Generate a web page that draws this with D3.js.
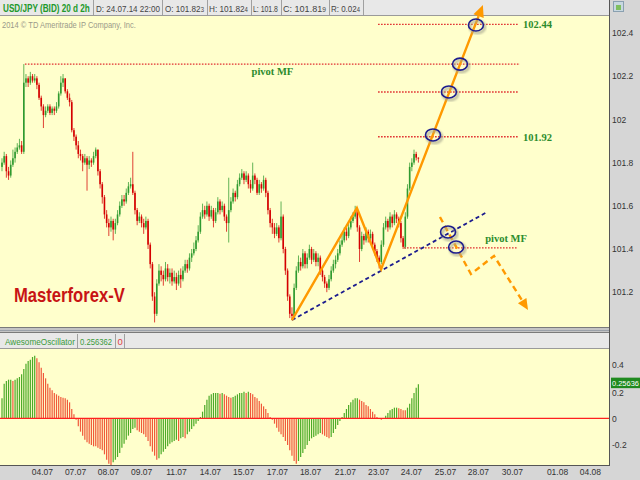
<!DOCTYPE html>
<html><head><meta charset="utf-8">
<script src="https://cdn.jsdelivr.net/npm/d3@7"></script>
<style>html,body{margin:0;padding:0;background:#d6d6d6;overflow:hidden}</style>
</head><body><svg id="c" width="640" height="480"></svg>
<script>
// ---------------- DATA ----------------
const firstOpen = 101.78;
const closes = [
101.80,101.83,101.76,101.74,101.79,101.82,101.85,101.87,101.88,101.85,
102.17,102.19,102.17,102.20,102.18,102.19,102.16,102.10,102.06,102.02,
102.04,102.06,102.03,102.05,102.04,102.06,102.12,102.17,102.19,102.13,
102.10,102.08,101.95,101.92,101.88,101.84,101.83,101.80,101.82,101.79,
101.81,101.80,101.83,101.86,101.76,101.70,101.64,101.56,101.52,101.50,
101.53,101.49,101.52,101.56,101.60,101.63,101.62,101.66,101.69,101.70,
101.66,101.58,101.53,101.55,101.52,101.50,101.53,101.42,101.33,101.18,
101.10,101.24,101.30,101.28,101.26,101.31,101.27,101.29,101.25,101.27,
101.24,101.28,101.26,101.30,101.33,101.31,101.36,101.38,101.40,101.44,
101.48,101.55,101.58,101.56,101.60,101.55,101.58,101.53,101.57,101.62,
101.58,101.60,101.55,101.52,101.58,101.62,101.66,101.64,101.70,101.73,
101.75,101.72,101.74,101.70,101.68,101.74,101.72,101.66,101.70,101.68,
101.72,101.66,101.58,101.52,101.50,101.47,101.50,101.45,101.55,101.40,
101.30,101.18,101.10,101.09,101.22,101.30,101.34,101.32,101.38,101.33,
101.36,101.40,101.35,101.38,101.34,101.36,101.30,101.27,101.24,101.22,
101.26,101.30,101.33,101.35,101.38,101.42,101.44,101.48,101.46,101.50,
101.53,101.55,101.58,101.50,101.40,101.46,101.44,101.48,101.45,101.47,
101.42,101.39,101.36,101.34,101.42,101.50,101.53,101.50,101.55,101.52,
101.56,101.54,101.52,101.45,101.41,101.55,101.68,101.78,101.80,101.84,
101.823,101.819];
const highs = [
101.82,101.85,101.84,101.78,101.81,101.86,101.87,101.89,101.91,101.90,
102.256,102.21,102.20,102.22,102.21,102.21,102.20,102.17,102.11,102.07,
102.06,102.07,102.07,102.06,102.06,102.08,102.13,102.20,102.21,102.19,
102.14,102.12,102.09,101.96,101.93,101.90,101.86,101.84,101.84,101.83,
101.83,101.82,101.85,101.87,101.86,101.77,101.71,101.65,101.58,101.54,
101.55,101.54,101.54,101.58,101.62,101.65,101.65,101.68,101.71,101.73,
101.85,101.67,101.59,101.57,101.56,101.54,101.55,101.54,101.43,101.34,
101.20,101.26,101.33,101.32,101.30,101.34,101.33,101.31,101.31,101.30,
101.29,101.30,101.31,101.32,101.35,101.35,101.38,101.40,101.43,101.46,
101.51,101.57,101.61,101.60,101.62,101.61,101.60,101.59,101.59,101.64,
101.63,101.62,101.61,101.56,101.73,101.64,101.68,101.67,101.72,101.75,
101.77,101.76,101.76,101.75,101.72,101.80,101.75,101.73,101.72,101.71,
101.74,101.73,101.67,101.59,101.54,101.52,101.52,101.51,101.62,101.56,
101.41,101.31,101.19,101.13,101.24,101.32,101.37,101.36,101.40,101.39,
101.38,101.42,101.41,101.40,101.39,101.38,101.37,101.31,101.28,101.25,
101.28,101.32,101.35,101.37,101.40,101.44,101.47,101.50,101.50,101.52,
101.55,101.57,101.60,101.59,101.51,101.48,101.47,101.50,101.49,101.49,
101.48,101.43,101.40,101.37,101.44,101.52,101.55,101.54,101.57,101.56,
101.58,101.57,101.55,101.53,101.46,101.57,101.70,101.80,101.82,101.86,
101.85,101.824];
const lows = [
101.76,101.79,101.73,101.72,101.73,101.78,101.80,101.84,101.86,101.84,
101.84,102.15,102.15,102.16,102.17,102.17,102.14,102.09,102.04,101.96,
102.01,102.03,102.02,102.02,102.02,102.03,102.05,102.11,102.15,102.12,
102.09,102.06,101.94,101.90,101.86,101.82,101.81,101.76,101.79,101.67,
101.77,101.78,101.79,101.82,101.74,101.68,101.61,101.54,101.50,101.46,
101.48,101.44,101.47,101.51,101.55,101.59,101.60,101.61,101.65,101.68,
101.65,101.56,101.51,101.52,101.50,101.47,101.49,101.40,101.31,101.16,
101.06,101.09,101.23,101.25,101.23,101.25,101.25,101.24,101.23,101.24,
101.21,101.23,101.22,101.25,101.29,101.29,101.30,101.34,101.37,101.39,
101.43,101.47,101.54,101.54,101.55,101.53,101.54,101.50,101.52,101.56,
101.56,101.57,101.53,101.48,101.43,101.57,101.61,101.62,101.63,101.69,
101.72,101.70,101.71,101.68,101.66,101.67,101.70,101.65,101.65,101.66,
101.67,101.64,101.56,101.50,101.47,101.45,101.46,101.43,101.44,101.38,
101.28,101.16,101.08,101.07,101.08,101.21,101.29,101.30,101.31,101.31,
101.31,101.35,101.33,101.34,101.32,101.32,101.28,101.25,101.22,101.20,
101.21,101.25,101.29,101.31,101.34,101.37,101.41,101.43,101.44,101.45,
101.49,101.52,101.54,101.48,101.34,101.39,101.42,101.43,101.43,101.44,
101.40,101.37,101.34,101.31,101.33,101.41,101.49,101.48,101.49,101.50,
101.51,101.52,101.50,101.43,101.40,101.40,101.54,101.67,101.76,101.79,
101.81,101.80];
const aoValues = [
0.15,0.26,0.28,0.29,0.29,0.28,0.29,0.30,0.31,0.33,
0.37,0.41,0.43,0.44,0.46,0.47,0.45,0.42,0.38,0.34,
0.30,0.26,0.23,0.21,0.19,0.18,0.17,0.16,0.155,0.15,
0.14,0.12,0.07,0.03,-0.01,-0.06,-0.10,-0.13,-0.16,-0.18,
-0.19,-0.20,-0.21,-0.21,-0.22,-0.23,-0.24,-0.27,-0.31,-0.34,
-0.35,-0.33,-0.31,-0.29,-0.26,-0.22,-0.19,-0.16,-0.13,-0.11,
-0.08,-0.07,-0.09,-0.10,-0.11,-0.12,-0.14,-0.17,-0.21,-0.25,
-0.28,-0.31,-0.30,-0.27,-0.25,-0.23,-0.21,-0.19,-0.18,-0.17,
-0.16,-0.17,-0.15,-0.14,-0.15,-0.12,-0.10,-0.08,-0.06,-0.04,
-0.02,0.01,0.05,0.10,0.14,0.17,0.18,0.19,0.19,0.19,
0.185,0.19,0.18,0.17,0.16,0.155,0.16,0.17,0.18,0.19,
0.19,0.20,0.19,0.20,0.19,0.18,0.16,0.15,0.13,0.11,
0.09,0.07,0.04,0.01,-0.01,-0.04,-0.07,-0.10,-0.12,-0.14,
-0.17,-0.20,-0.24,-0.28,-0.32,-0.34,-0.32,-0.29,-0.26,-0.23,
-0.20,-0.17,-0.15,-0.14,-0.13,-0.12,-0.11,-0.12,-0.13,-0.14,
-0.15,-0.14,-0.11,-0.08,-0.05,-0.02,0.01,0.04,0.07,0.10,
0.12,0.14,0.15,0.15,0.14,0.13,0.12,0.10,0.09,0.07,
0.05,0.03,0.01,0.00,-0.01,0.00,0.02,0.04,0.06,0.07,
0.08,0.08,0.075,0.07,0.06,0.06,0.08,0.11,0.15,0.19,
0.23,0.256362];
const dateLabels = ["04.07","07.07","08.07","09.07","11.07","14.07","15.07","17.07","18.07","21.07","23.07","24.07","25.07","28.07","30.07","01.08","04.08"];
const dateTickIndex = [18.3,33.5,48.6,63.8,79.8,95.4,110.6,126.1,141.3,157.3,172.5,187.6,203.2,218.3,233.9,254.6,269.7];
const priceTicks = [102.4,102.2,102,101.8,101.6,101.4,101.2];
const aoTicks = [0.4,0.2,0,-0.2];
const headerTitle = "USD/JPY (BID) 20 d 2h";
const headerMain = ["D: 24.07.14 22:00","O: 101.82","H: 101.82","L: 101.8","C: 101.81","R: 0.02"];
const headerSmall = ["","3","4","","9","4"];
const aoName = "AwesomeOscillator";
const aoLast = "0.256362";
const aoLastShort = "0.25636";
// annotation levels (price) and index spans
const targetLevels = [102.44, 102.127, 101.92];
const targetLabels = ["102.44", "", "101.92"];
const targetSpan = [172.5, 236.7];
const pivotTop = 102.256, pivotTopSpan = [10.5, 237.6];
const pivotLow = 101.405, pivotLowSpan = [184.4, 236.7];
const zigIndex = [133, 162.8, 173.9, 220.6];
const zigPrice = [101.071, 101.59, 101.307, 102.53];
const trendIndex = [133, 222.5];
const trendPrice = [101.071, 101.571];
const altIndex = [200.9, 215.1, 225.7, 241.3];
const altPrice = [101.548, 101.284, 101.368, 101.118];
const circleIndex = [217.4, 210.1, 205.0, 197.7, 204.6, 208.3];
const circlePrice = [102.437, 102.256, 102.127, 101.928, 101.479, 101.409];

// ---------------- LAYOUT ----------------
const svg = d3.select("#c");
const W = 640, H = 480, plotR = 609;
const pTop = 16, pBot = 327, aTop = 349, aBot = 465;
const x = d3.scaleLinear().domain([-0.917, 278.44]).range([0, plotR]);
const yP = d3.scaleLinear().domain([101.0435, 102.4787]).range([326, 16]);
const yA = d3.scaleLinear().domain([-0.35, 0.52]).range([aBot, aTop]);
const GREEN = "#2f9a2f", RED = "#d40000";
const SANS = "Liberation Sans, Arial, sans-serif";

// place a text so that its natural width is squeezed horizontally into w pixels
function fitText(sel, x0, y0, w){
  const nw = sel.node().getComputedTextLength();
  const k = nw > 0 ? Math.min(1, w/nw) : 1;
  sel.attr("x",0).attr("y",0).attr("transform",`translate(${x0},${y0}) scale(${k},1)`);
  return sel;
}

const defs = svg.append("defs");
defs.append("filter").attr("id","blur").append("feGaussianBlur").attr("stdDeviation",0.9);

// backgrounds
svg.append("rect").attr("x",0).attr("y",0).attr("width",W).attr("height",H).attr("fill","#d6d6d6");
svg.append("rect").attr("x",0).attr("y",0).attr("width",plotR).attr("height",15).attr("fill","#e8e8e8");
svg.append("line").attr("x1",0).attr("x2",plotR).attr("y1",15.5).attr("y2",15.5).attr("stroke","#9a9a9a");
svg.append("rect").attr("x",0).attr("y",pTop).attr("width",plotR).attr("height",pBot-pTop).attr("fill","#ffffcc");
svg.append("rect").attr("x",0).attr("y",aTop).attr("width",plotR).attr("height",aBot-aTop).attr("fill","#ffffcc");
svg.append("rect").attr("x",0).attr("y",pBot).attr("width",plotR).attr("height",6).attr("fill","#c4c4c4");
[pBot+0.5, pBot+3.5, pBot+5.5].forEach((yy,k)=>svg.append("line").attr("x1",0).attr("x2",plotR).attr("y1",yy).attr("y2",yy).attr("stroke",k==1?"#9aa0a8":"#7a7a7a"));
svg.append("rect").attr("x",0).attr("y",pBot+6).attr("width",plotR).attr("height",aTop-pBot-6).attr("fill","#e8e8e8");
svg.append("line").attr("x1",0).attr("x2",plotR).attr("y1",aTop-0.5).attr("y2",aTop-0.5).attr("stroke","#9a9a9a");
svg.append("line").attr("x1",0).attr("x2",plotR).attr("y1",aBot+0.5).attr("y2",aBot+0.5).attr("stroke","#555");
svg.append("line").attr("x1",plotR+0.5).attr("x2",plotR+0.5).attr("y1",0).attr("y2",aBot+1).attr("stroke","#555");

// header
const hdr = svg.append("g").attr("font-family",SANS);
fitText(hdr.append("text").attr("font-size",10.5).attr("font-weight","bold").attr("fill","#22992b").text(headerTitle), 3, 11.5, 87);
const hSpans = [[96,160],[165,204],[209,248],[253,278],[283,326],[331,360]];
const hSeps = [93,162,207,251,281,329,363];
hSeps.forEach(s=>hdr.append("line").attr("x1",s+0.5).attr("x2",s+0.5).attr("y1",0).attr("y2",15).attr("stroke","#a0a0a0"));
headerMain.forEach((t,k)=>{
  const tx = hdr.append("text").attr("font-size",9.5).attr("fill","#444");
  tx.append("tspan").text(t);
  if(headerSmall[k]) tx.append("tspan").attr("font-size",7).text(headerSmall[k]);
  fitText(tx, hSpans[k][0], 11.5, hSpans[k][1]-hSpans[k][0]);
});
// small icon top right
svg.append("rect").attr("x",613.5).attr("y",1.5).attr("width",10).attr("height",10).attr("fill","#c8d8e0").attr("stroke","#8aa0b0");
svg.append("rect").attr("x",616).attr("y",5).attr("width",5).attr("height",5).attr("fill","#7fbf5f");

fitText(svg.append("text").attr("font-family",SANS).attr("font-size",8.5).attr("fill","#9a9a8a")
  .text("2014 \u00A9 TD Ameritrade IP Company, Inc."), 2, 28, 134);

// ---------------- CANDLES ----------------
const bars = closes.map((c,i)=>({i, o: i===0?firstOpen:closes[i-1], c, h: highs[i], l: lows[i]}));
const cg = svg.append("g");
cg.selectAll("line.w").data(bars).join("line").attr("class","w")
  .attr("x1",d=>x(d.i)).attr("x2",d=>x(d.i)).attr("y1",d=>yP(d.h)).attr("y2",d=>yP(d.l))
  .attr("stroke",d=>d.c>=d.o?GREEN:RED).attr("stroke-width",1).attr("opacity",0.75);
cg.selectAll("rect.b").data(bars).join("rect").attr("class","b")
  .attr("x",d=>x(d.i)-0.8).attr("width",1.6)
  .attr("y",d=>yP(Math.max(d.o,d.c)))
  .attr("height",d=>Math.max(1,Math.abs(yP(d.o)-yP(d.c))))
  .attr("fill",d=>d.c>=d.o?GREEN:RED);

// ---------------- ANNOTATIONS ----------------
const an = svg.append("g");
const dotted = (g,x1,x2,y)=>g.append("line").attr("x1",x1).attr("x2",x2).attr("y1",y).attr("y2",y)
  .attr("stroke","#e03030").attr("stroke-width",1.4).attr("stroke-dasharray","1.6,1.4");
dotted(an, x(pivotTopSpan[0]), x(pivotTopSpan[1]), yP(pivotTop));
targetLevels.forEach(v=>dotted(an, x(targetSpan[0]), x(targetSpan[1]), yP(v)));
dotted(an, x(pivotLowSpan[0]), x(pivotLowSpan[1]), yP(pivotLow));

const serif = "Liberation Serif, Times New Roman, serif";
targetLevels.forEach((v,k)=>{ if(targetLabels[k]) an.append("text").attr("x",x(targetSpan[1])+5).attr("y",yP(v)+4)
  .attr("font-family",serif).attr("font-weight","bold").attr("font-size",10.5).attr("fill","#2c8c2c").text(targetLabels[k]); });
an.append("text").attr("x",x((pivotTopSpan[0]+pivotTopSpan[1])/2)).attr("y",yP(pivotTop)+11).attr("text-anchor","middle")
  .attr("font-family",serif).attr("font-weight","bold").attr("font-size",10.5).attr("fill","#2c8c2c").text("pivot MF");
an.append("text").attr("x",x(231.2)).attr("y",yP(pivotLow)-6).attr("text-anchor","middle")
  .attr("font-family",serif).attr("font-weight","bold").attr("font-size",10.5).attr("fill","#2c8c2c").text("pivot MF");

an.append("line").attr("x1",x(trendIndex[0])).attr("y1",yP(trendPrice[0])).attr("x2",x(trendIndex[1])).attr("y2",yP(trendPrice[1]))
  .attr("stroke","#1c1c8e").attr("stroke-width",1.8).attr("stroke-dasharray","4,3");

function arrowHead(g,x1,y1,x2,y2,len,hw,color){
  const a=Math.atan2(y2-y1,x2-x1);
  const bx=x2-len*Math.cos(a), by=y2-len*Math.sin(a);
  const px=-Math.sin(a)*hw, py=Math.cos(a)*hw;
  g.append("path").attr("d",`M${x2},${y2}L${bx+px},${by+py}L${bx-px},${by-py}Z`).attr("fill",color);
  return [bx,by];
}
const ORANGE = "#ff9900";
const zpts = zigIndex.map((v,k)=>[x(v), yP(zigPrice[k])]);
const n = zpts.length;
const base = arrowHead(an, zpts[n-2][0], zpts[n-2][1], zpts[n-1][0], zpts[n-1][1], 12, 5.5, ORANGE);
an.append("path").attr("d", d3.line()(zpts.slice(0,n-1).concat([base]))).attr("fill","none")
  .attr("stroke",ORANGE).attr("stroke-width",2.4).attr("stroke-linejoin","miter");
const apts = altIndex.map((v,k)=>[x(v), yP(altPrice[k])]);
const m = apts.length;
const abase = arrowHead(an, apts[m-2][0], apts[m-2][1], apts[m-1][0], apts[m-1][1], 11, 5, ORANGE);
an.append("path").attr("d", d3.line()(apts.slice(0,m-1).concat([abase]))).attr("fill","none")
  .attr("stroke",ORANGE).attr("stroke-width",2.4).attr("stroke-dasharray","6,4");

circleIndex.forEach((v,k)=>{
  const cx=x(v), cy=yP(circlePrice[k]);
  an.append("ellipse").attr("cx",cx+1.5).attr("cy",cy+2).attr("rx",7.5).attr("ry",6)
    .attr("fill","none").attr("stroke","#a8a890").attr("stroke-width",2.5).attr("filter","url(#blur)").attr("opacity",0.8);
  an.append("ellipse").attr("cx",cx).attr("cy",cy).attr("rx",7.5).attr("ry",6)
    .attr("fill","none").attr("stroke","#1c1c8e").attr("stroke-width",1.6);
});

fitText(svg.append("text").attr("font-family",SANS).attr("font-size",20).attr("font-weight","bold").attr("fill","#c81414")
  .text("Masterforex-V"), 14, 302, 111);

// ---------------- PRICE AXIS ----------------
const pa = svg.append("g").attr("transform",`translate(${plotR},0)`)
  .call(d3.axisRight(yP).tickValues(priceTicks).tickSize(0).tickPadding(3).tickFormat(d3.format("~g")));
pa.select(".domain").remove();
pa.selectAll("text").attr("font-family",SANS).attr("font-size",8.5).attr("fill","#333");

// ---------------- AO PANEL ----------------
const ah = svg.append("g").attr("font-family",SANS).attr("font-size",9.5);
fitText(ah.append("text").attr("fill","#3a9a3a").text(aoName), 5, 345, 70);
fitText(ah.append("text").attr("fill","#3a9a3a").text(aoLast), 80, 345, 32);
ah.append("text").attr("x",117.5).attr("y",345).attr("fill","#e04040").text("0");
[77.5,115.5,124.5].forEach(s=>ah.append("line").attr("x1",s).attr("x2",s).attr("y1",334).attr("y2",348).attr("stroke","#a0a0a0"));

let prevColor = "#4caa28";
const aoData = aoValues.map((v,i)=>{
  let col = prevColor;
  if(i>0 && v>aoValues[i-1]) col = "#4caa28"; else if(i>0 && v<aoValues[i-1]) col = "#f0583a";
  prevColor = col; return {i,v,col};
});
svg.append("g").selectAll("line").data(aoData).join("line")
  .attr("x1",d=>x(d.i)).attr("x2",d=>x(d.i)).attr("y1",yA(0)).attr("y2",d=>yA(d.v))
  .attr("stroke",d=>d.col).attr("stroke-width",1.2);
svg.append("line").attr("x1",0).attr("x2",plotR).attr("y1",yA(0)).attr("y2",yA(0)).attr("stroke","#ff2020").attr("stroke-width",1.2);

const aa = svg.append("g").attr("transform",`translate(${plotR},0)`)
  .call(d3.axisRight(yA).tickValues(aoTicks).tickSize(0).tickPadding(3).tickFormat(d=>d3.format("~g")(d).replace("\u2212","-")));
aa.select(".domain").remove();
aa.selectAll("text").attr("font-family",SANS).attr("font-size",8.5).attr("fill","#333")
  .attr("dy", d => d===0.2 ? "0.5em" : "0.32em");
const lastY = yA(aoValues[aoValues.length-1]);
svg.append("rect").attr("x",611).attr("y",lastY-6.5).attr("width",29).attr("height",10.5).attr("fill","#1f8a1f");
fitText(svg.append("text").attr("font-family",SANS).attr("font-size",8).attr("fill","#fff").text(aoLastShort), 612, lastY+1.6, 27);

// ---------------- DATE AXIS ----------------
const da = svg.append("g").attr("transform",`translate(0,${aBot})`)
  .call(d3.axisBottom(x).tickValues(dateTickIndex).tickSize(0).tickPadding(4).tickFormat((d,i)=>dateLabels[i]));
da.select(".domain").remove();
da.selectAll("text").attr("font-family",SANS).attr("font-size",8.5).attr("fill","#333");
</script></body></html>
